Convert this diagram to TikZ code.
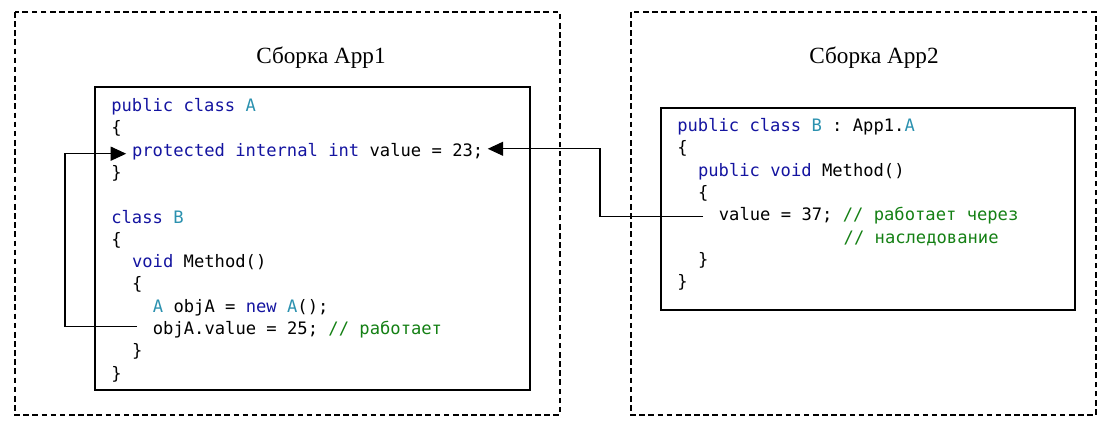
\documentclass[tikz,border=0pt]{standalone}
\usepackage{fontspec}
\setmainfont{Liberation Serif}
\newfontfamily\codefont{DejaVu Sans Mono}
\usetikzlibrary{arrows.meta,positioning,calc}
\definecolor{kwblue}{RGB}{20,20,160}
\definecolor{typeteal}{RGB}{43,145,175}
\definecolor{cmtgreen}{RGB}{20,128,20}
\newcommand{\kw}[1]{\textcolor{kwblue}{#1}}
\newcommand{\tp}[1]{\textcolor{typeteal}{#1}}
\newcommand{\cmt}[1]{\textcolor{cmtgreen}{#1}}

\begin{document}
\begin{tikzpicture}[x=0.025cm, y=-0.025cm,
    codeline/.style={anchor=west, inner sep=0pt, font=\codefont\fontsize{12.2}{14}\selectfont, text height=9pt, text depth=2.5pt},
    asmtitle/.style={font=\fontsize{16.5}{20}\selectfont},
    asmframe/.style={draw, dash pattern=on 4pt off 2.5pt, line width=0.9pt},
    codebox/.style={draw, line width=0.9pt},
    arr/.style={-{Triangle[length=11pt,width=10pt]}, line width=0.8pt}
]
\useasboundingbox (0,0) rectangle (1112,432);

% assemblies
\draw[asmframe] (15,12) rectangle (560,415);
\draw[asmframe] (631,12) rectangle (1096,415);
\node[asmtitle] (t1) at (321,58) {Сборка App1};
\node[asmtitle] (t2) at (874,58) {Сборка App2};

% code boxes
\draw[codebox] (95,87) rectangle (530,390);
\draw[codebox] (661,108) rectangle (1075,310);

% App1
\node[codeline] (a1) at (111,107) {\kw{public class} \tp{A}};
\node[codeline] (a2) at (111,129.3) {\{};
\node[codeline] (field) at (111+20.8,151.6) {\kw{protected internal int} value = 23;};
\node[codeline] (a4) at (111,173.9) {\}};
\node[codeline] (a5) at (111,218.5) {\kw{class} \tp{B}};
\node[codeline] (a6) at (111,240.8) {\{};
\node[codeline] (a7) at (111+20.8,263.1) {\kw{void} Method()};
\node[codeline] (a8) at (111+20.8,285.4) {\{};
\node[codeline] (a9) at (111+41.6,307.7) {\tp{A} objA = \kw{new} \tp{A}();};
\node[codeline] (objval) at (111+41.6,330) {objA.value = 25; \cmt{// работает}};
\node[codeline] (a11) at (111+20.8,352.3) {\}};
\node[codeline] (a12) at (111,374.6) {\}};

% App2
\node[codeline] (b1) at (677,127) {\kw{public class} \tp{B} : App1.\tp{A}};
\node[codeline] (b2) at (677,149.3) {\{};
\node[codeline] (b3) at (677+20.8,171.6) {\kw{public void} Method()};
\node[codeline] (b4) at (677+20.8,193.9) {\{};
\node[codeline] (inhval) at (677+41.6,216.2) {value = 37; \cmt{// работает через}};
\node[codeline] (b6) at (677+166.4,238.5) {\cmt{// наследование}};
\node[codeline] (b7) at (677+20.8,260.8) {\}};
\node[codeline] (b8) at (677,283.1) {\}};

% access paths
\coordinate (lbend) at (65,0);
\coordinate (rbend) at (600,0);
\draw[arr] ([xshift=-11pt,yshift=2.5pt]objval.west) -- ([yshift=2.5pt]objval.west -| lbend) |- ([xshift=-4pt,yshift=-1.5pt]field.west);
\draw[arr] ([xshift=-11pt]inhval.west) -- (inhval.west -| rbend) |- ([xshift=3pt,yshift=2pt]field.east);
\end{tikzpicture}
\end{document}
